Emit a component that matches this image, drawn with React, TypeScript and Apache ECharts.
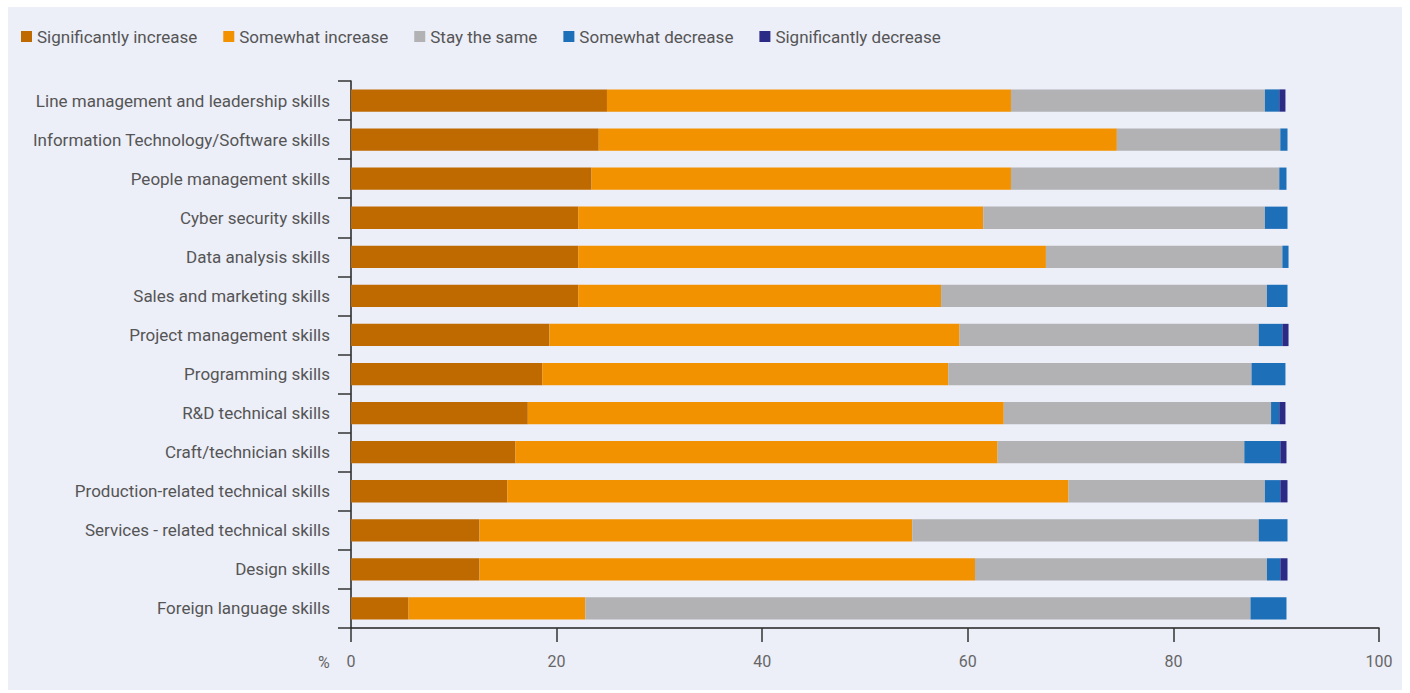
import React, { useEffect, useRef } from "react";
import * as echarts from "echarts";

const categories = [
  "Line management and leadership skills",
  "Information Technology/Software skills",
  "People management skills",
  "Cyber security skills",
  "Data analysis skills",
  "Sales and marketing skills",
  "Project management skills",
  "Programming skills",
  "R&D technical skills",
  "Craft/technician skills",
  "Production-related technical skills",
  "Services - related technical skills",
  "Design skills",
  "Foreign language skills",
];

const significantlyIncrease = [24.9, 24.1, 23.4, 22.1, 22.1, 22.1, 19.3, 18.6, 17.2, 16.0, 15.2, 12.5, 12.5, 5.6];
const somewhatIncrease = [39.3, 50.4, 40.8, 39.4, 45.5, 35.3, 39.9, 39.5, 46.3, 46.9, 54.6, 42.1, 48.2, 17.2];
const stayTheSame = [24.7, 15.9, 26.1, 27.4, 23.0, 31.7, 29.1, 29.5, 26.0, 24.0, 19.1, 33.7, 28.4, 64.7];
const somewhatDecrease = [1.4, 0.7, 0.7, 2.2, 0.6, 2.0, 2.3, 3.3, 0.8, 3.5, 1.5, 2.8, 1.3, 3.5];
const significantlyDecrease = [0.6, 0, 0, 0, 0, 0, 0.6, 0, 0.6, 0.6, 0.7, 0, 0.7, 0];

const seriesNames = [
  "Significantly increase",
  "Somewhat increase",
  "Stay the same",
  "Somewhat decrease",
  "Significantly decrease",
];
const seriesData = [significantlyIncrease, somewhatIncrease, stayTheSame, somewhatDecrease, significantlyDecrease];
const colors = ["#bf6a00", "#f39200", "#b2b2b5", "#1d6fb8", "#2b2b86"];

const xTicks = { min: 0, max: 100, interval: 20 };

export default function App() {
  const ref = useRef<HTMLDivElement>(null);
  useEffect(() => {
    if (!ref.current) return;
    const chart = echarts.init(ref.current, null, { renderer: "svg" });
    const font = "Roboto, 'Noto Sans', sans-serif";
    chart.setOption({
      animation: false,
      backgroundColor: "#ffffff",
      textStyle: { fontFamily: font },
      graphic: [
        {
          type: "rect",
          z: -10,
          silent: true,
          shape: { x: 8, y: 7, width: 1394, height: 683 },
          style: { fill: "#eceef8" },
        },
        {
          type: "text",
          left: 318,
          top: 654,
          style: { text: "%", fill: "#666", font: `16px ${font}` },
        },
      ],
      legend: {
        left: 16,
        top: 23,
        itemWidth: 11,
        itemHeight: 11,
        itemGap: 26,
        icon: "rect",
        textStyle: { color: "#555", fontSize: 17, fontFamily: font },
        data: seriesNames,
      },
      grid: { left: 351, right: 31, top: 81, bottom: 65, containLabel: false },
      xAxis: {
        type: "value",
        min: xTicks.min,
        max: xTicks.max,
        interval: xTicks.interval,
        axisLine: { show: true, lineStyle: { color: "#222", width: 1.5 } },
        axisTick: { show: true, length: 14, lineStyle: { color: "#333", width: 1.5 } },
        splitLine: { show: false },
        axisLabel: { color: "#666", fontSize: 16, margin: 25, fontFamily: font },
      },
      yAxis: {
        type: "category",
        inverse: true,
        data: categories,
        axisLine: { show: true, lineStyle: { color: "#222", width: 1.5 } },
        axisTick: { show: true, length: 13, lineStyle: { color: "#333", width: 1.5 } },
        axisLabel: { color: "#555", fontSize: 17, margin: 21, fontFamily: font },
      },
      series: seriesNames.map((name, i) => ({
        name,
        type: "bar",
        stack: "total",
        barWidth: "57%",
        silent: true,
        itemStyle: { color: colors[i] },
        emphasis: { disabled: true },
        data: seriesData[i],
      })),
    });
    return () => chart.dispose();
  }, []);
  return (
    <div
      ref={ref}
      style={{ position: "absolute", left: 0, top: 0, width: 1410, height: 693 }}
    />
  );
}
